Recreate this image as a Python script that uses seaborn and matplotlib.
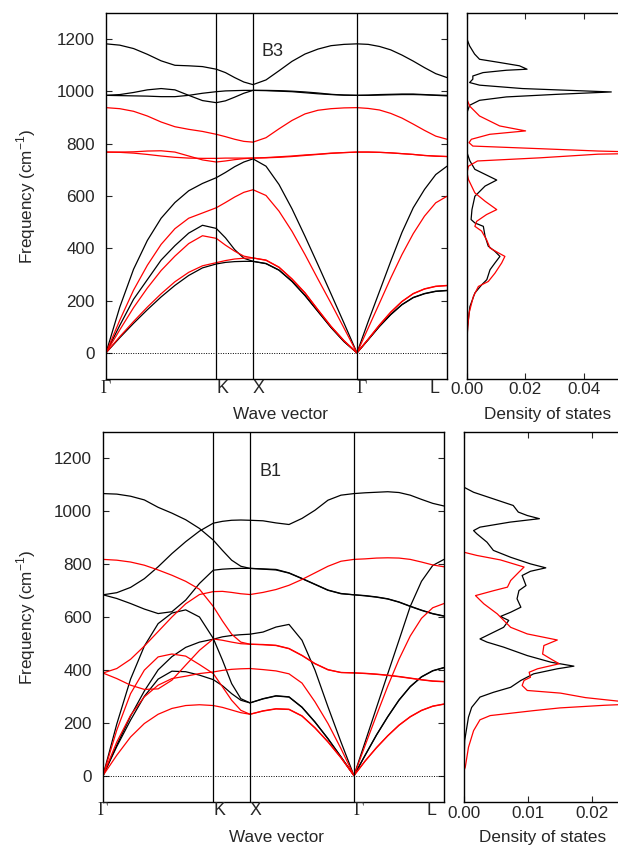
import numpy as np
import pandas as pd
import matplotlib
matplotlib.use("Agg")
import matplotlib.pyplot as plt
import matplotlib.transforms as mtransforms
import seaborn as sns

# ---------------- data ----------------
# high-symmetry path (distances in 2pi/a), labels
sym_labels = ["Γ", "K", "X", "Γ", "L"]
sym_pos = [0.0, 1.0607, 1.4142, 2.4142, 3.2803]
# fractions of each segment at which the bands were read
frac_GK = [0, .125, .25, .375, .5, .625, .75, .875, 1]
frac_KX = [.25, .5, .75, 1]
frac_XG = [.125, .25, .375, .5, .625, .75, .875, 1]
frac_GL = [.125, .25, .375, .5, .625, .75, .875, 1]

# ---- B3 panel (each band: GK(9) + KX(4) + XG(8) + GL(8)) ----
b3_black = [
    [1182, 1177, 1164, 1142, 1117, 1100, 1098, 1095, 1085, 1072, 1053, 1036, 1026,
     1044, 1079, 1115, 1143, 1162, 1175, 1180, 1182, 1180, 1172, 1159, 1139, 1116, 1091, 1068, 1053],
    [985, 988, 996, 1006, 1011, 1006, 985, 965, 957, 964, 978, 993, 1004,
     1004, 1003, 1001, 998, 994, 989, 986, 985, 986, 988, 989, 990, 990, 988, 986, 985],
    [985, 984, 983, 982, 980, 980, 985, 993, 999, 1002, 1003, 1004, 1004,
     1003, 1001, 999, 995, 991, 988, 986, 985, 985, 986, 987, 988, 988, 987, 985, 983],
    [0, 175, 320, 430, 515, 575, 620, 648, 670, 690, 712, 730, 742,
     714, 644, 551, 446, 337, 226, 114, 0, 120, 235, 350, 461, 555, 625, 682, 714],
    [0, 105, 205, 280, 355, 410, 458, 488, 476, 440, 395, 362, 350,
     341, 316, 273, 219, 158, 97, 43, 0, 50, 101, 146, 184, 211, 226, 235, 238],
    [0, 58, 113, 165, 214, 258, 296, 325, 340, 346, 349, 350, 350,
     342, 317, 274, 220, 159, 98, 44, 0, 51, 102, 147, 185, 212, 227, 236, 239],
]
b3_red = [
    [938, 934, 924, 906, 883, 865, 855, 847, 836, 827, 817, 809, 806,
     823, 857, 889, 914, 928, 934, 937, 938, 935, 929, 916, 898, 875, 851, 829, 817],
    [768, 768, 769, 772, 773, 768, 753, 738, 730, 734, 739, 743, 745,
     747, 750, 753, 757, 760, 764, 766, 768, 768, 767, 765, 762, 759, 755, 752, 751],
    [768, 767, 764, 759, 753, 748, 745, 744, 744, 745, 745, 745, 745,
     746, 748, 751, 755, 759, 763, 766, 768, 768, 767, 765, 762, 759, 755, 753, 751],
    [0, 125, 240, 335, 415, 475, 515, 535, 555, 575, 596, 614, 624,
     602, 542, 465, 376, 282, 190, 95, 0, 95, 190, 286, 376, 456, 523, 574, 599],
    [0, 88, 173, 248, 315, 370, 418, 448, 438, 412, 389, 370, 363,
     354, 327, 282, 229, 164, 101, 46, 0, 52, 106, 155, 196, 226, 244, 254, 257],
    [0, 62, 120, 175, 226, 272, 308, 333, 345, 353, 359, 362, 363,
     355, 328, 283, 230, 165, 102, 47, 0, 53, 107, 156, 197, 227, 245, 255, 258],
]
# ---- B1 panel ----
b1_black = [
    [1067, 1065, 1057, 1043, 1015, 993, 968, 935, 891, 852, 815, 792, 784,
     782, 780, 767, 746, 724, 702, 689, 684, 681, 676, 669, 657, 641, 626, 613, 604],
    [684, 692, 712, 745, 790, 840, 885, 925, 955, 962, 966, 967, 966,
     964, 956, 950, 973, 1004, 1042, 1061, 1067, 1070, 1072, 1074, 1071, 1061, 1045, 1030, 1020],
    [684, 670, 651, 630, 613, 620, 664, 727, 777, 781, 783, 784, 784,
     781, 778, 766, 745, 723, 701, 688, 684, 680, 675, 668, 656, 640, 625, 612, 603],
    [0, 195, 365, 490, 575, 615, 627, 600, 519, 437, 348, 291, 275,
     290, 301, 297, 258, 202, 139, 70, 0, 77, 153, 222, 285, 336, 373, 396, 408],
    [0, 115, 225, 320, 400, 450, 485, 505, 516, 525, 530, 533, 535,
     543, 562, 572, 512, 399, 260, 127, 0, 128, 257, 385, 512, 640, 735, 795, 818],
    [0, 110, 210, 300, 365, 395, 393, 380, 363, 340, 310, 285, 275,
     291, 302, 298, 259, 203, 140, 71, 0, 78, 154, 223, 286, 337, 374, 397, 409],
]
b1_red = [
    [818, 815, 808, 796, 778, 758, 735, 705, 640, 585, 535, 505, 497,
     496, 493, 481, 455, 424, 401, 390, 389, 386, 383, 379, 374, 368, 362, 357, 355],
    [388, 405, 440, 490, 545, 600, 650, 685, 696, 697, 693, 688, 685,
     693, 704, 720, 742, 767, 792, 811, 818, 820, 823, 824, 823, 818, 808, 797, 790],
    [388, 367, 342, 326, 328, 361, 418, 474, 517, 512, 505, 499, 497,
     495, 492, 480, 454, 423, 400, 390, 388, 387, 384, 380, 375, 369, 363, 358, 356],
    [0, 172, 310, 399, 449, 460, 452, 420, 386, 336, 285, 247, 232,
     244, 252, 250, 225, 180, 127, 67, 0, 55, 105, 150, 190, 222, 246, 262, 270],
    [0, 127, 228, 298, 342, 367, 376, 386, 392, 398, 402, 404, 405,
     401, 396, 385, 350, 279, 197, 102, 0, 115, 228, 338, 440, 528, 595, 635, 651],
    [0, 77, 146, 197, 232, 254, 265, 268, 265, 258, 248, 238, 232,
     245, 253, 251, 226, 181, 128, 68, 0, 56, 106, 151, 191, 223, 247, 263, 271],
]

# ---- densities of states (frequency, DOS) ----
dos_b3_black_f = [0, 24, 101, 177, 229, 261, 280, 318, 344, 369, 388, 408, 446, 484, 497, 510,
                  548, 599, 638, 661, 702, 734, 766, 919, 947, 966, 979, 989, 998, 1011, 1024,
                  1034, 1047, 1059, 1072, 1081, 1085, 1098, 1111, 1123, 1143, 1174, 1200]
dos_b3_black_v = [0, 0, .0002, .0010, .0027, .0051, .0068, .0079, .0096, .0113, .0096, .0073,
                  .0062, .0056, .0027, .0014, .0017, .0027, .0062, .0102, .0027, .001, 0, 0,
                  .0009, .0043, .0135, .031, .0495, .019, .0043, .0009, .002, .002, .0055,
                  .0135, .0206, .018, .011, .0043, .0026, .0009, 0]
dos_b3_red_f = [0, 37, 77, 152, 216, 254, 273, 305, 344, 369, 383, 401, 433, 466, 484, 503, 529,
                548, 580, 612, 663, 689, 714, 734, 746, 760, 765, 772, 781, 791, 804, 817, 836,
                849, 868, 906, 944, 970, 1200]
dos_b3_red_v = [0, 0, .0001, .0007, .0022, .0039, .0073, .0096, .0119, .013, .0107, .0079, .0067,
                .005, .0027, .0033, .0067, .0102, .0062, .0027, .0005, 0, .0005, .0036, .025,
                .045, .07, .045, .025, .002, .0007, .0015, .0078, .0201, .0112, .0043, .0009,
                0, 0]
dos_b1_black_f = [0, 32, 132, 221, 258, 297, 315, 334, 360, 385, 404, 414, 429, 454, 486, 505,
                  517, 536, 561, 587, 602, 618, 637, 669, 700, 719, 757, 773, 786, 801, 826, 852,
                  883, 915, 927, 940, 959, 972, 984, 997, 1022, 1047, 1072, 1091, 1200]
dos_b1_black_v = [0, 0, .0001, .0007, .0012, .0025, .0046, .0073, .0089, .0109, .0146, .0172,
                  .0136, .0099, .0062, .0036, .0025, .0041, .0062, .007, .0057, .0073, .0089,
                  .0083, .0086, .0097, .0091, .0104, .0128, .0104, .0073, .0046, .0036, .002,
                  .0015, .0025, .0072, .0118, .0099, .0085, .0077, .0046, .0015, 0, 0]
dos_b1_red_f = [0, 19, 32, 107, 170, 211, 227, 246, 256, 266, 274, 282, 295, 312, 322, 341, 360,
                372, 391, 404, 423, 441, 460, 492, 513, 536, 561, 612, 650, 681, 700, 713, 738,
                770, 789, 816, 833, 845, 1200]
dos_b1_red_v = [0, 0, .0002, .0007, .0015, .0025, .0041, .011, .015, .022, .030, .024, .019,
                .0151, .0099, .0091, .0094, .0104, .0102, .0115, .0149, .0136, .0123, .0125,
                .0146, .0099, .0073, .0052, .0031, .0018, .0047, .0068, .0073, .0086, .0094,
                .0057, .002, 0, 0]

dos_ticks_b3 = [0.00, 0.02, 0.04]
dos_ticks_b1 = [0.00, 0.01, 0.02]
freq_ticks = [0, 200, 400, 600, 800, 1000, 1200]

# ---------------- helpers ----------------
def path_q():
    g, k, x, g2, l = sym_pos
    q = [g + f * (k - g) for f in frac_GK]
    q += [k + f * (x - k) for f in frac_KX]
    q += [x + f * (g2 - x) for f in frac_XG]
    q += [g2 + f * (l - g2) for f in frac_GL]
    return q


def bands_frame(black, red):
    q = path_q()
    rows = []
    for name, group in (("black", black), ("red", red)):
        for i, band in enumerate(group):
            for qq, ff in zip(q, band):
                rows.append({"q": qq, "freq": ff, "set": name, "band": f"{name}{i}"})
    return pd.DataFrame(rows)


sns.set_theme(style="white")
plt.rcParams["font.family"] = ["Liberation Sans", "DejaVu Sans"]
plt.rcParams["mathtext.fontset"] = "custom"
plt.rcParams["mathtext.rm"] = "Liberation Sans"
FS = 12.3

fig = plt.figure(figsize=(6.18, 8.46), dpi=100)
W, H = 618.0, 846.0


def ax_at(l, t, r, b):
    return fig.add_axes([l / W, 1 - b / H, (r - l) / W, (b - t) / H])


def draw_disp(ax, black, red, tag, tagq, tagf, lab_y, xl_x, xl_y, yl_x):
    df = bands_frame(black, red)
    sns.lineplot(data=df, x="q", y="freq", hue="set", units="band", estimator=None,
                 sort=False, palette={"black": "black", "red": "#ff0000"},
                 linewidth=0.9, legend=False, ax=ax)
    for p in sym_pos[1:-1]:
        ax.axvline(p, color="black", lw=0.9, zorder=3)
    ax.axhline(0, color="black", lw=0.7, ls=(0, (1, 1.5)), zorder=1)
    ax.set_xlim(sym_pos[0], sym_pos[-1])
    ax.set_ylim(-100, 1300)
    ax.set_xticks([])
    # symmetry-point labels, placed like the original (left of line / right-aligned at L)
    trans = mtransforms.blended_transform_factory(ax.transData, ax.transAxes)
    for i, (p, lab) in enumerate(zip(sym_pos, sym_labels)):
        fam = ["Liberation Serif", "DejaVu Serif"] if lab == "Γ" else ["Liberation Sans"]
        if i == 0:
            ha, tr = "center", trans
        elif i == len(sym_pos) - 1:
            ha, tr = "right", mtransforms.offset_copy(trans, fig=fig, x=-8, units="dots")
        else:
            ha, tr = "left", trans
        ax.text(p, lab_y, lab, transform=tr, ha=ha, va="center", fontsize=FS + 0.5,
                family=fam)
    ax.set_yticks(freq_ticks)
    ax.tick_params(axis="y", direction="in", right=True, left=True, length=4.5,
                   width=0.8, labelsize=FS, pad=8)
    ax.set_xlabel("Wave vector", fontsize=FS)
    ax.xaxis.label.set_verticalalignment("center")
    ax.xaxis.set_label_coords(xl_x, xl_y)
    ax.set_ylabel("Frequency (cm$^{-1}$)", fontsize=FS)
    ax.yaxis.label.set_verticalalignment("center")
    ax.yaxis.set_label_coords(yl_x, 0.5)
    for s in ax.spines.values():
        s.set_linewidth(1.0)
        s.set_color("black")
    ax.text(tagq, tagf, tag, fontsize=13, ha="center", va="center")


def draw_dos(ax, bf, bv, rf, rv, xmax, ticks, pad, xl_x, xl_y):
    sns.lineplot(x=bv, y=bf, sort=False, estimator=None, color="black", lw=0.9,
                 orient="y", ax=ax)
    sns.lineplot(x=rv, y=rf, sort=False, estimator=None, color="#ff0000", lw=0.9,
                 orient="y", ax=ax)
    ax.set_xlim(0, xmax)
    ax.set_ylim(-100, 1300)
    ax.set_xticks(ticks)
    ax.set_xticklabels([f"{t:.2f}" for t in ticks])
    ax.set_yticks([])
    ax.tick_params(axis="x", direction="in", top=True, bottom=True, length=4.5,
                   width=0.8, labelsize=FS, pad=pad)
    ax.spines["right"].set_visible(False)
    for s in ax.spines.values():
        s.set_linewidth(1.0)
        s.set_color("black")
    ax.set_xlabel("Density of states", fontsize=FS)
    ax.xaxis.label.set_verticalalignment("center")
    ax.xaxis.set_label_coords(xl_x, xl_y)
    ax.set_ylabel("")


ax1 = ax_at(106, 13, 447, 379)
draw_disp(ax1, b3_black, b3_red, "B3", 1.597, 1154, lab_y=-0.0246,
          xl_x=0.513, xl_y=-0.097, yl_x=-0.235)
ax2 = ax_at(467, 13, 618, 379)
draw_dos(ax2, dos_b3_black_f, dos_b3_black_v, dos_b3_red_f, dos_b3_red_v, 0.0518,
         dos_ticks_b3, pad=2.5, xl_x=0.536, xl_y=-0.097)

ax3 = ax_at(103, 432, 444, 802)
draw_disp(ax3, b1_black, b1_red, "B1", 1.607, 1151, lab_y=-0.0243,
          xl_x=0.51, xl_y=-0.097, yl_x=-0.226)
ax4 = ax_at(464, 432, 618, 802)
draw_dos(ax4, dos_b1_black_f, dos_b1_black_v, dos_b1_red_f, dos_b1_red_v, 0.0241,
         dos_ticks_b1, pad=3.0, xl_x=0.513, xl_y=-0.097)

fig.savefig("out.png", dpi=100)
